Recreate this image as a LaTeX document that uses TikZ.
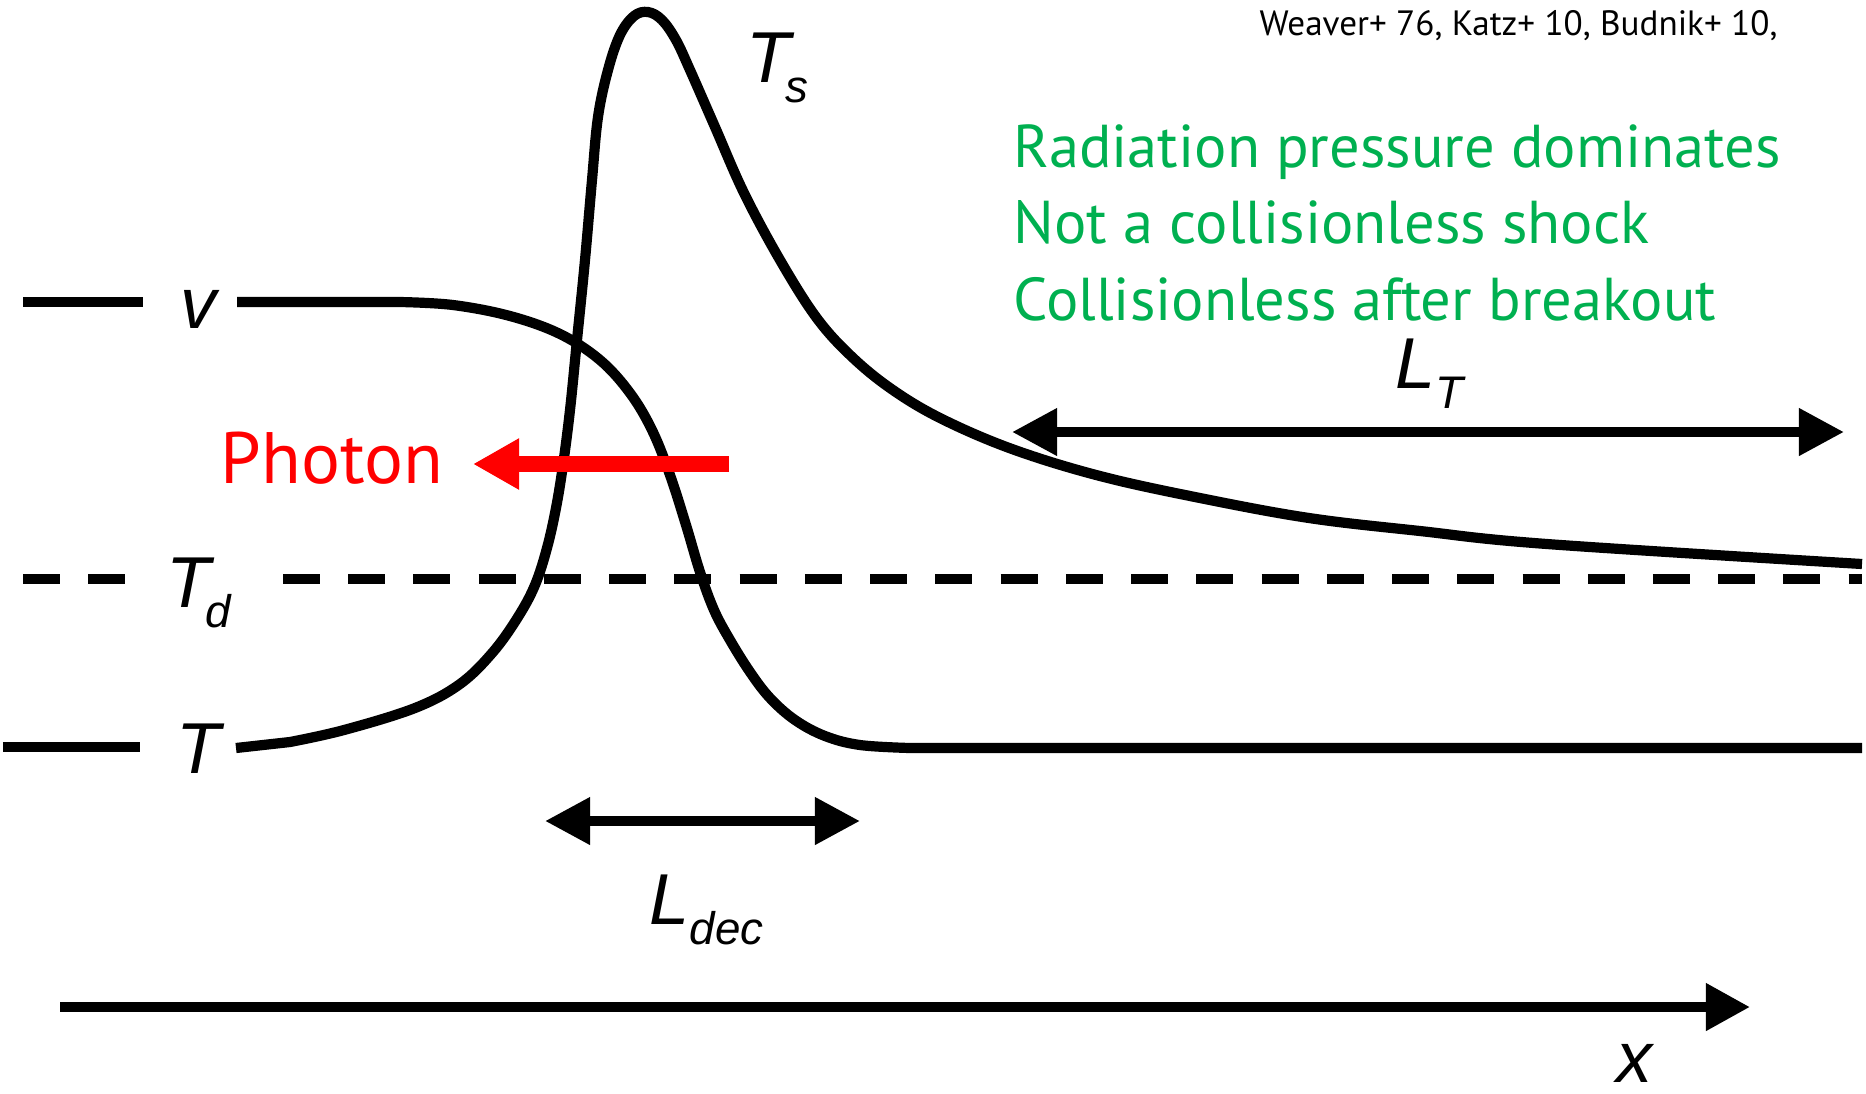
\documentclass[tikz,border=0pt]{standalone}
\usepackage{fontspec}
\setmainfont{PT Sans}
\newfontfamily\plotfont{Liberation Sans}
\usepackage{tikz}
\usetikzlibrary{arrows.meta,positioning}
\definecolor{notegreen}{RGB}{0,176,80}
\definecolor{photonred}{RGB}{255,0,0}
\newcommand{\sublbl}[3][0pt]{#2\kern#1\raisebox{-5.7pt}{\fontsize{13}{13}\selectfont #3}}

\tikzset{
  curve/.style={line width=2.9pt, line join=round},
  tdline/.style={curve, dash pattern=on 0.37cm off 0.282cm},
  spanarrow/.style={line width=2.9pt, {Triangle[length=4.5mm,width=4.5mm]}-{Triangle[length=4.5mm,width=4.5mm]}},
  axisarrow/.style={line width=2.9pt, -{Triangle[length=4.4mm,width=4.5mm]}},
  photonarrow/.style={line width=4.3pt, photonred, -{Triangle[length=4.6mm,width=4.8mm]}},
  varlabel/.style={inner sep=0pt, anchor=base west, font=\plotfont\itshape\fontsize{20.5}{20.5}\selectfont},
  note/.style={inner sep=0pt, anchor=base west, text=notegreen, font=\fontsize{17.2}{17.2}\selectfont}
}

\begin{document}
\begin{tikzpicture}[x=0.01cm, y=-0.01cm]
  \useasboundingbox (0,0) rectangle (1866,1093);

  % velocity profile
  \draw[curve] (23,302) -- (143,302);
  \draw[curve] (237,302) -- plot[smooth, tension=0.6] coordinates {
      (400,302) (453,305) (510,316) (560,334) (600,360) (630,393) (652,430)
      (670,475) (686,525) (700,572) (714,610) (730,640) (750,672) (770,698)
      (795,720) (825,736) (860,745) (910,748)}
    -- (1862,748);

  % temperature profile
  \draw[curve] (3,747) -- (140,747);
  \draw[curve] (236,748) -- plot[smooth, tension=0.6] coordinates {
      (290,742) (344,730) (415,708) (460,684) (493,652) (518,617) (535,585)
      (547,548) (556,508) (563,465) (570,410) (577,340) (585,260) (592,180)
      (598,117) (608,70) (620,35) (634,16) (648,12) (662,20) (676,40)
      (690,70) (715,127) (744,193) (780,260) (816,317) (850,355) (890,388)
      (940,418) (1012,449) (1100,476) (1200,498) (1309,518) (1420,531)
      (1547,544) (1862,564)};

  % T_d level
  \draw[tdline] (23,579) -- (126,579);
  \draw[tdline] (283,579) -- (1862,579);

  % labels
  \node[varlabel] (vlbl)    at (180,328)  {v};
  \node[varlabel] (tdlbl)   at (166,607)  {\sublbl[-1.5pt]{T}{d}};
  \node[varlabel] (tlbl)    at (176,773)  {T};
  \node[varlabel] (tslbl)   at (746,82)   {\sublbl[-1.5pt]{T}{s}};
  \node[varlabel] (ltlbl)   at (1395,388) {\sublbl{L}{T}};
  \node[varlabel] (ldeclbl) at (649,924)  {\sublbl{L}{dec}};
  \node[varlabel] (xlbl)    at (1616,1082) {x};

  % length scales and axis
  \coordinate (lt-a) at (1012,432);
  \coordinate (lt-b) at (1844,432);
  \draw[spanarrow] (lt-a) -- (lt-b);
  \coordinate (ldec-a) at (545,821);
  \coordinate (ldec-b) at (860,821);
  \draw[spanarrow] (ldec-a) -- (ldec-b);
  \coordinate (ax-a) at (60,1007);
  \coordinate (ax-b) at (1750,1007);
  \draw[axisarrow] (ax-a) -- (ax-b);

  % photon
  \node[inner sep=0pt, anchor=base west, text=photonred, font=\fontsize{20.7}{20.7}\selectfont] (photon) at (220,483) {Photon};
  \coordinate (ph-a) at (729,464);
  \coordinate (ph-b) at (473,464);
  \draw[photonarrow] (ph-a) -- (ph-b);

  % notes
  \node[inner sep=0pt, anchor=base west, font=\fontsize{10}{10}\selectfont] (refs) at (1259,35) {Weaver+ 76, Katz+ 10, Budnik+ 10,};
  \node[note] (note1) at (1013,167) {Radiation pressure dominates};
  \node[note] (note2) at (1013,243) {Not a collisionless shock};
  \node[note] (note3) at (1013,320) {Collisionless after breakout};
\end{tikzpicture}
\end{document}
